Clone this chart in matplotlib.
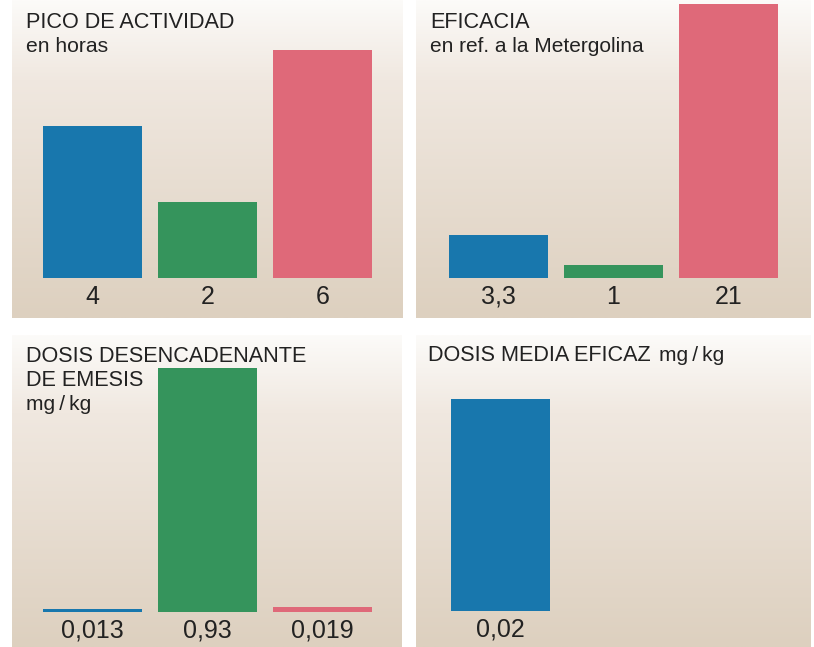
import matplotlib.pyplot as plt
import numpy as np

plt.rcParams["font.family"] = ["Liberation Sans", "DejaVu Sans"]

# datos de cada panel
pico_vals = [4, 2, 6]
pico_labels = ["4", "2", "6"]
eficacia_vals = [3.3, 1, 21]
eficacia_labels = ["3,3", "1", "21"]
emesis_vals = [0.013, 0.93, 0.019]
emesis_labels = ["0,013", "0,93", "0,019"]
media_vals = [0.02]
media_labels = ["0,02"]

colors = ["#1877ad", "#35945c", "#df6979"]
unit = "mg\u2009/\u2009kg"

W, H = 814, 647
fig = plt.figure(figsize=(W / 100, H / 100), dpi=100)
fig.patch.set_facecolor("white")

# degradado de fondo (arriba claro, abajo beige)
stops = [0.0, 0.25, 1.0]
cols = np.array([[252, 251, 249], [240, 232, 224], [221, 208, 191]]) / 255.0
t = np.linspace(0, 1, 256)
grad = np.stack([np.interp(t, stops, cols[:, k]) for k in range(3)], axis=1)[:, None, :]


def panel(box, vals, labels, cols_, xlim, ylim, title_lines):
    # box = (left, top, right, bottom) in pixels
    l, tp, r, b = box
    ax = fig.add_axes([l / W, (H - b) / H, (r - l) / W, (b - tp) / H])
    ax.imshow(grad, extent=[0, 1, 0, 1], transform=ax.transAxes, aspect="auto", zorder=0)
    x = np.arange(len(vals))
    ax.bar(x, vals, width=0.86, color=cols_, zorder=2)
    for xi, lab in zip(x, labels):
        ax.annotate(lab, (xi, 0), xytext=(0, -13.5), textcoords="offset points",
                    ha="center", va="center", fontsize=18, color="#222222")
    ax.set_xlim(*xlim)
    ax.set_ylim(*ylim)
    ax.axis("off")
    for txt, fs, dy in title_lines:
        ax.text(14 / (r - l), 1 - dy / (b - tp), txt, transform=ax.transAxes,
                fontsize=fs, color="#222222", va="baseline", ha="left")
    return ax


panel((12, 0, 403, 318), pico_vals, pico_labels, colors,
      (-0.7, 2.7), (-40 / 38, 278 / 38),
      [("PICO DE ACTIVIDAD", 15.6, 28), ("en horas", 15.2, 52)])
panel((416, 0, 811, 318), eficacia_vals, eficacia_labels, colors,
      (-0.717, 2.717), (-40 / 13.05, 278 / 13.05),
      [("EFICACIA", 15.6, 28), ("en ref. a la Metergolina", 15, 52)])
panel((12, 335, 402, 647), emesis_vals, emesis_labels, colors,
      (-0.7, 2.69), (-35 / 262.4, 277 / 262.4),
      [("DOSIS DESENCADENANTE", 15.6, 27), ("DE EMESIS", 15.6, 51), (unit, 15, 75)])
ax4 = panel((416, 335, 811, 647), media_vals, media_labels, colors[:1],
            (-0.73, 2.7), (-36 / 10600, 276 / 10600), [])
ax4.text(12 / 395, 1 - 26 / 312, "DOSIS MEDIA EFICAZ", transform=ax4.transAxes,
         fontsize=15.6, color="#222222", va="baseline", ha="left")
ax4.text(243 / 395, 1 - 26 / 312, unit, transform=ax4.transAxes,
         fontsize=15, color="#222222", va="baseline", ha="left")

fig.savefig("out.png", dpi=100)
